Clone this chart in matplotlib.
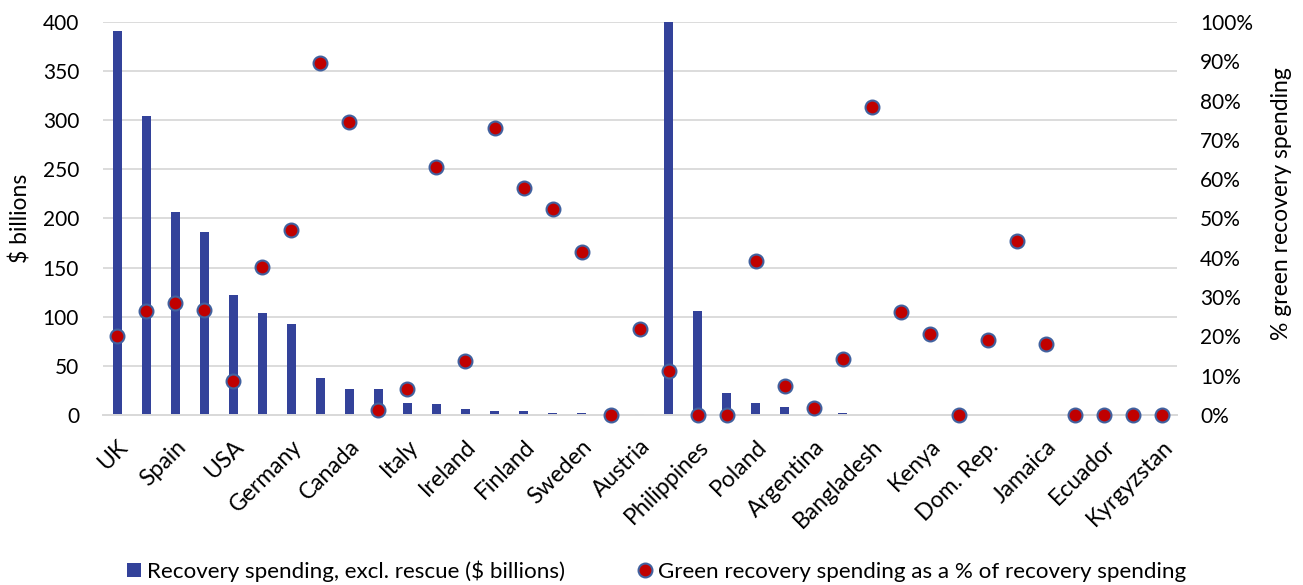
import numpy as np
import matplotlib
matplotlib.use("Agg")
import matplotlib.pyplot as plt
import matplotlib.transforms as mtransforms
from matplotlib.patches import Patch
from matplotlib.lines import Line2D

plt.rcParams["font.family"] = ["Lato", "DejaVu Sans"]

# recovery spending per country ($ billions), ranked; only every other name is labelled
spending = [391, 304, 206.6, 186, 122.5, 104, 92.3, 37.7, 26.8, 26.1, 11.9, 11.2,
            6.4, 4.4, 3.7, 2.4, 2.4, 0, 1.0, 400, 105.5, 22, 11.9, 8.5, 0, 2.3,
            0.5, 0.3, 0.2, 0, 0.1, 0.1, 0.1, 0, 0, 0, 0]
# green share of recovery spending (%)
green_pct = [20.1, 26.5, 28.4, 26.7, 8.7, 37.6, 47.2, 89.5, 74.6, 1.3, 6.7, 63.2,
             13.8, 72.9, 57.8, 52.5, 41.6, 0, 21.8, 11.1, 0, 0, 39.1, 7.4, 1.8, 14.3,
             78.3, 26.2, 20.6, 0, 19.1, 44.4, 18.1, 0, 0, 0, 0]
tick_labels = ["UK", "Spain", "USA", "Germany", "Canada", "Italy", "Ireland", "Finland",
               "Sweden", "Austria", "Philippines", "Poland", "Argentina", "Bangladesh",
               "Kenya", "Dom. Rep.", "Jamaica", "Ecuador", "Kyrgyzstan"]

bar_color = "#33429A"
dot_color = "#C00000"
dot_edge = "#41619F"
grid_color = "#D9D9D9"

x = np.arange(len(spending))

fig = plt.figure(figsize=(13.03, 5.85), dpi=100)
ax = fig.add_axes([0.0788, 0.2906, 0.8242, 0.6718])
ax2 = ax.twinx()

ax.bar(x, spending, width=0.32, color=bar_color, zorder=2)
ax.set_ylim(0, 400)
ax.set_yticks(np.arange(0, 401, 50))
ax.set_xlim(-0.5, len(spending) - 0.5)
ax.grid(axis="y", color=grid_color, linewidth=1.3, zorder=0)
ax.set_axisbelow(True)

ax2.plot(x, green_pct, "o", markersize=10, markerfacecolor=dot_color,
         markeredgecolor=dot_edge, markeredgewidth=1.5, clip_on=False, zorder=3)
ax2.set_ylim(0, 100)
ax2.set_yticks(np.arange(0, 101, 10))
ax2.set_yticklabels([f"{v}%" for v in range(0, 101, 10)])

ax.set_xticks(x[::2])
ax.set_xticklabels(tick_labels, rotation=45, ha="right", va="top",
                   rotation_mode="anchor", fontsize=16.5)
shift = mtransforms.ScaledTranslation(0.02, 0, fig.dpi_scale_trans)
for lbl in ax.get_xticklabels():
    lbl.set_transform(lbl.get_transform() + shift)

for a in (ax, ax2):
    for side in ("top", "left", "right"):
        a.spines[side].set_visible(False)
    a.spines["bottom"].set_color(grid_color)
    a.spines["bottom"].set_linewidth(1.3)
ax.tick_params(axis="x", length=0, pad=15)
ax.tick_params(axis="y", length=0, pad=17, labelsize=15)
ax2.tick_params(axis="y", length=0, pad=17, labelsize=15)

ax.set_ylabel("$ billions", fontsize=16.5)
ax.yaxis.set_label_coords(-0.066, 0.5)
ax2.set_ylabel("% green recovery spending", fontsize=16.5)
ax2.yaxis.set_label_coords(1.088, 0.538)

handles = [
    Patch(facecolor=bar_color, edgecolor="none"),
    Line2D([], [], linestyle="none", marker="o", markersize=10,
           markerfacecolor=dot_color, markeredgecolor=dot_edge, markeredgewidth=1.5),
]
fig.legend(handles,
           ["Recovery spending, excl. rescue ($ billions)",
            "Green recovery spending as a % of recovery spending"],
           loc="lower center", bbox_to_anchor=(0.504, -0.029), ncol=2, frameon=False,
           fontsize=16.1, handlelength=0.62, handleheight=0.62, handletextpad=0.25,
           columnspacing=3.3)

fig.savefig("out.png", dpi=100)
